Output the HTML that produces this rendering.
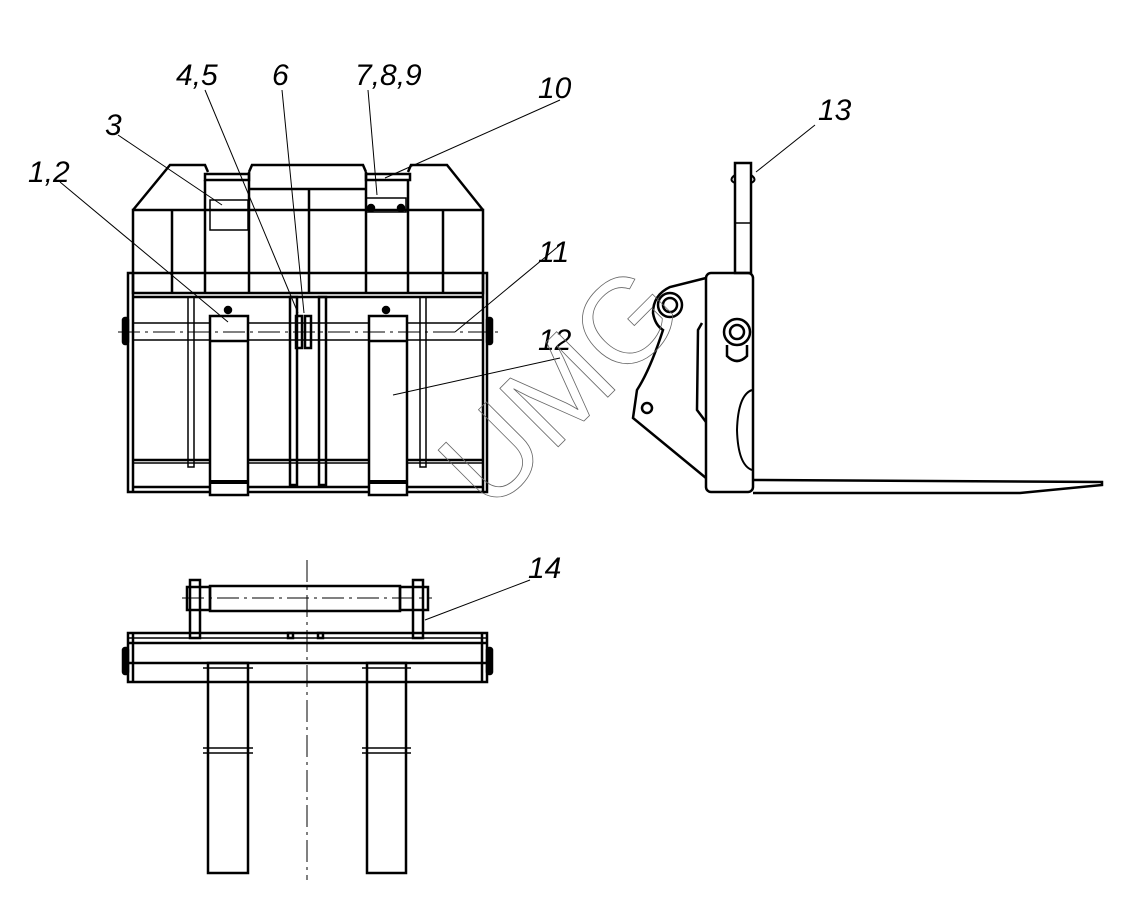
<!DOCTYPE html>
<html><head><meta charset="utf-8"><style>
html,body{margin:0;padding:0;background:#fff;}
svg{display:block}
.l{font-family:"Liberation Sans",sans-serif;font-style:italic;font-size:30px;fill:#000;}
</style></head><body>
<svg width="1122" height="898" viewBox="0 0 1122 898" xmlns="http://www.w3.org/2000/svg">
<g fill="none" stroke="#000" stroke-width="2.5">
<polyline points="133,210 170,165 205,165 208,172"/>
<polyline points="249,172 252,165 363,165 366,172"/>
<polyline points="408,172 411,165 447,165 483,210"/>
<rect x="205" y="174" width="44" height="6"/>
<rect x="366" y="174" width="44" height="6"/>
<line x1="249" y1="189" x2="366" y2="189"/>
<rect x="133" y="210" width="350" height="83"/>
<rect x="128" y="273" width="359" height="219"/>
<line x1="133" y1="297" x2="483" y2="297"/>
<line x1="172" y1="210" x2="172" y2="293"/>
<line x1="205" y1="180" x2="205" y2="293"/>
<line x1="249" y1="172" x2="249" y2="293"/>
<line x1="309" y1="189" x2="309" y2="293"/>
<line x1="366" y1="172" x2="366" y2="293"/>
<line x1="408" y1="180" x2="408" y2="293"/>
<line x1="443" y1="210" x2="443" y2="293"/>
<line x1="133" y1="273" x2="133" y2="492"/>
<line x1="483" y1="273" x2="483" y2="492"/>
<line x1="133" y1="323" x2="483" y2="323" stroke-width="1.5"/>
<line x1="133" y1="340" x2="483" y2="340" stroke-width="1.5"/>
<line x1="133" y1="460" x2="483" y2="460"/>
<line x1="133" y1="463" x2="483" y2="463" stroke-width="1.5"/>
<line x1="133" y1="487" x2="483" y2="487"/>
<rect x="210" y="316" width="38" height="179" fill="#fff"/>
<rect x="369" y="316" width="38" height="179" fill="#fff"/>
<line x1="210" y1="341" x2="248" y2="341"/>
<line x1="369" y1="341" x2="407" y2="341"/>
<line x1="210" y1="482" x2="248" y2="482" stroke-width="4"/>
<line x1="369" y1="482" x2="407" y2="482" stroke-width="4"/>
<rect x="290" y="297" width="7" height="188"/>
<rect x="319" y="297" width="7" height="188"/>
<rect x="296" y="316" width="6" height="32"/>
<rect x="305" y="316" width="6" height="32"/>
<rect x="188" y="297" width="6" height="170" stroke-width="1.5"/>
<rect x="420" y="297" width="6" height="170" stroke-width="1.5"/>
<rect x="123" y="318" width="5" height="26" rx="2" fill="#000"/>
<rect x="487" y="318" width="5" height="26" rx="2" fill="#000"/>
<rect x="210" y="200" width="38" height="30" stroke-width="1.5"/>
<rect x="366" y="198" width="40" height="14" stroke-width="1.5"/>
<circle cx="228" cy="310" r="3" fill="#000"/>
<circle cx="386" cy="310" r="3" fill="#000"/>
<circle cx="371" cy="208" r="3" fill="#000"/>
<circle cx="401" cy="208" r="3" fill="#000"/>

<rect x="735" y="163" width="16" height="110"/>
<line x1="735" y1="223" x2="751" y2="223" stroke-width="1.5"/>
<rect x="706" y="273" width="47" height="219" rx="5"/>
<path d="M706,278 L670,287 Q653,295 653,313 Q655,325 663,330 Q650,370 637,390 L633,418 L706,478"/>
<path d="M702,323 L698,330 L697,410 L706,422"/>
<circle cx="670" cy="305" r="12"/><circle cx="670" cy="305" r="7"/>
<circle cx="737" cy="332" r="13"/><circle cx="737" cy="332" r="7"/>
<path d="M727,345 L727,356 Q737,366 747,356 L747,345"/>
<circle cx="647" cy="408" r="5"/>
<path d="M753,480 L1102,482 L1102,485 L1020,493 L753,493"/>
<path d="M752,390 Q738,395 737,430 Q738,465 752,470" stroke-width="2"/>
<path d="M735,175 Q728,180 735,183 M751,175 Q758,180 751,183" stroke-width="2"/>

<rect x="210" y="586" width="190" height="25"/>
<rect x="187" y="587" width="23" height="23"/>
<rect x="400" y="587" width="28" height="23"/>
<rect x="190" y="580" width="10" height="58"/>
<rect x="413" y="580" width="10" height="58"/>
<rect x="128" y="633" width="359" height="49"/>
<line x1="128" y1="638" x2="487" y2="638" stroke-width="1.5"/>
<line x1="128" y1="643" x2="487" y2="643"/>
<line x1="128" y1="663" x2="487" y2="663"/>
<line x1="133" y1="633" x2="133" y2="682"/>
<line x1="482" y1="633" x2="482" y2="682"/>
<rect x="123" y="648" width="5" height="26" rx="2" fill="#000"/>
<rect x="487" y="648" width="5" height="26" rx="2" fill="#000"/>
<rect x="288" y="633" width="5" height="5"/><rect x="318" y="633" width="5" height="5"/>
<rect x="208" y="663" width="40" height="210"/>
<rect x="367" y="663" width="39" height="210"/>
<line x1="203" y1="668" x2="253" y2="668" stroke-width="1.5"/>
<line x1="362" y1="668" x2="411" y2="668" stroke-width="1.5"/>
<line x1="203" y1="748" x2="253" y2="748" stroke-width="1.5"/>
<line x1="203" y1="753" x2="253" y2="753" stroke-width="1.5"/>
<line x1="362" y1="748" x2="411" y2="748" stroke-width="1.5"/>
<line x1="362" y1="753" x2="411" y2="753" stroke-width="1.5"/>
</g>
<g stroke="#000" stroke-width="1" fill="none">
<line x1="118" y1="332" x2="500" y2="332" stroke-dasharray="22,5,3,5"/>
<line x1="182" y1="598" x2="432" y2="598" stroke-dasharray="22,5,3,5"/>
<line x1="307" y1="560" x2="307" y2="880" stroke-dasharray="22,5,3,5"/>
<line x1="60" y1="182" x2="228" y2="322"/>
<line x1="118" y1="135" x2="222" y2="205"/>
<line x1="205" y1="90" x2="298" y2="313"/>
<line x1="282" y1="90" x2="304" y2="313"/>
<line x1="368" y1="90" x2="377" y2="195"/>
<line x1="560" y1="100" x2="385" y2="178"/>
<line x1="560" y1="245" x2="455" y2="332"/>
<line x1="560" y1="358" x2="393" y2="395"/>
<line x1="815" y1="125" x2="756" y2="172"/>
<line x1="530" y1="580" x2="425" y2="620"/>
</g>
<g class="l">
<text x="28" y="182">1,2</text>
<text x="105" y="135">3</text>
<text x="176" y="85">4,5</text>
<text x="272" y="85">6</text>
<text x="355" y="85">7,8,9</text>
<text x="538" y="98">10</text>
<text x="538" y="262">11</text>
<text x="538" y="350">12</text>
<text x="818" y="120">13</text>
<text x="528" y="578">14</text>
</g>
<text x="0" y="0" transform="translate(490,515) rotate(-45)" font-family="Liberation Sans,sans-serif" font-size="120" fill="none" stroke="#666" stroke-width="0.8">UMG</text>
</svg>
</body></html>
